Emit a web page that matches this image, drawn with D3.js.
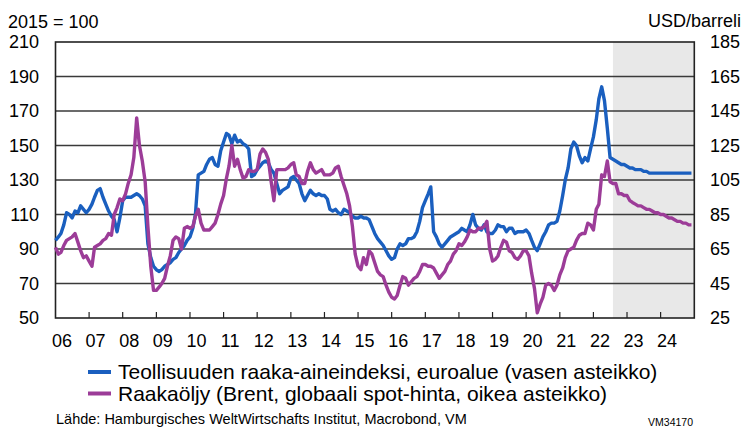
<!DOCTYPE html>
<html lang="fi">
<head>
    <meta charset="UTF-8">
    <title>Raaka-aineet ja öljy</title>
    <script src="https://d3js.org/d3.v7.min.js"></script>
    <style>
        body { margin: 0; background: #fff; }
        svg text { font-family: Arial, "Liberation Sans", sans-serif; fill: #000; }
    </style>
</head>
<body>
<svg id="main" width="742" height="427"></svg>

<script>
    // monthly values, Jan 2006 .. Dec 2024
    const startYear = 2006;

    // Teollisuuden raaka-aineindeksi, euroalue (2015 = 100), left axis
    const industrialIndex = [
        95, 97, 99, 104, 111, 110, 108, 112, 111, 115, 113, 111,
        113, 116, 120, 124, 125, 120, 116, 112, 109, 107, 100, 108,
        118, 120, 120, 120, 121, 122, 121, 119, 115, 93, 85, 80,
        78, 77, 78, 80, 81, 82, 84, 85, 88, 90, 92, 95,
        97, 102, 110, 133, 134, 135, 139, 142, 143, 139, 138, 147,
        152, 157, 156, 151, 156, 152, 153, 151, 150, 148, 132, 133,
        136, 138, 140, 141, 140, 136, 134, 128, 122, 124, 125, 126,
        131, 132, 130, 128, 122, 118, 121, 124, 122, 121, 122, 121,
        121, 119, 113, 112, 113, 111, 110, 113, 112, 111, 109, 108,
        108, 109, 108, 108, 107, 103, 99, 96, 94, 92, 89, 86,
        84, 85, 90, 93, 92, 93, 96, 96, 97, 100, 106, 114,
        118, 122, 126, 100, 97, 93, 91, 93, 95, 97, 98, 99,
        100, 102, 101, 100, 104, 110, 104, 102, 101, 104, 100, 99,
        99, 101, 104, 103, 103, 100, 102, 102, 99, 100, 100, 100,
        101, 99, 95, 91, 89, 93, 97, 100, 104, 105, 105, 106,
        112, 121, 130, 137, 148, 152, 150, 144, 140, 143, 141, 148,
        155, 165, 177, 184, 176, 160, 143, 142, 141, 140, 139, 139,
        138, 137, 137, 136, 136, 136, 135, 135, 134, 134, 134, 134,
        134, 134, 134, 134, 134, 134, 134, 134, 134, 134, 134, 134
    ];

    // Raakaöljy, Brent (USD/barreli), right axis
    const brentPrice = [
        66, 62, 63, 67, 70, 71, 72, 74, 69, 64, 60, 61,
        58, 55, 66, 67, 68, 70, 71, 74, 73, 85, 89, 94,
        93, 97, 103, 108, 118, 141, 125, 116, 104, 78, 55, 41,
        41, 43, 45, 48, 55, 61, 70, 72, 71, 65, 77, 78,
        77, 78, 84, 88, 80, 76, 76, 76, 78, 80, 85, 91,
        96, 106, 113, 125, 113, 117, 111, 106, 107, 111, 110, 110,
        111, 120, 123, 121, 117, 104, 93, 111, 111, 111, 111, 112,
        114, 115, 108, 107, 103, 103, 110, 115, 111, 109, 110, 111,
        108, 108, 108, 109, 112, 113, 107, 102, 97, 90, 78, 62,
        55, 53, 60, 56, 64, 62, 57, 52, 50, 49, 44, 40,
        37, 36, 38, 44, 49, 48, 44, 46, 48, 49, 52, 56,
        56, 55, 55, 54, 51, 48, 50, 52, 56, 58, 62, 64,
        68, 67, 69, 72, 76, 75, 75, 77, 77, 78, 81, 65,
        58, 59, 61, 66, 70, 69, 64, 63, 60, 59, 61, 64,
        64, 61, 51, 42, 28, 33, 37, 44, 45, 44, 41, 44,
        50, 54, 60, 64, 65, 66, 70, 73, 74, 74, 80, 79,
        76, 88, 91, 108, 107, 116, 104, 103, 103, 97, 97, 96,
        96, 93, 92, 91, 90, 90, 89, 88, 88, 87, 86, 86,
        85, 85, 84, 83, 83, 82, 81, 81, 80, 80, 79, 79
    ];

    const yearLabels = ["06", "07", "08", "09", "10", "11", "12", "13", "14", "15",
        "16", "17", "18", "19", "20", "21", "22", "23", "24"];
    const leftTicks = [50, 70, 90, 110, 130, 150, 170, 190, 210];
    const rightTicks = [25, 45, 65, 85, 105, 125, 145, 165, 185];
    const forecastStart = new Date(2022, 7, 1);

    const legendLabels = [
        "Teollisuuden raaka-aineindeksi, euroalue (vasen asteikko)",
        "Raakaöljy (Brent, globaali spot-hinta, oikea asteikko)"
    ];
    const colors = ['#1a5fbf', '#9c3c98'];

    const plotLeft = 55.5, plotRight = 694.3, plotTop = 42, plotBottom = 318;

    let svg = d3.select('svg#main');

    let x = d3.scaleTime()
        .domain([new Date(startYear, 0, 1), new Date(2025, 0, 1)])
        .range([plotLeft, plotRight]);
    let yLeft = d3.scaleLinear().domain([50, 210]).range([plotBottom, plotTop]);
    let yRight = d3.scaleLinear().domain([25, 185]).range([plotBottom, plotTop]);

    let months = industrialIndex.map((d, i) => new Date(startYear, i, 1));

    // forecast shading
    svg.append('rect')
        .attr('x', x(forecastStart))
        .attr('y', plotTop)
        .attr('width', plotRight - x(forecastStart))
        .attr('height', plotBottom - plotTop)
        .attr('fill', '#e8e8e8');

    // gridlines
    svg.append('g')
        .selectAll('line')
        .data(leftTicks.slice(1, -1))
        .enter()
        .append('line')
        .attr('x1', plotLeft).attr('x2', plotRight)
        .attr('y1', d => yLeft(d)).attr('y2', d => yLeft(d))
        .attr('stroke', '#3a3a3a')
        .attr('stroke-width', 1.3);

    // frame
    svg.append('rect')
        .attr('x', plotLeft).attr('y', plotTop)
        .attr('width', plotRight - plotLeft).attr('height', plotBottom - plotTop)
        .attr('fill', 'none')
        .attr('stroke', '#222')
        .attr('stroke-width', 1.6);

    // year ticks (inside) and labels
    let years = d3.range(startYear, startYear + yearLabels.length).map(y => new Date(y, 0, 1));
    svg.append('g')
        .selectAll('line')
        .data(years.slice(1))
        .enter()
        .append('line')
        .attr('x1', d => x(d)).attr('x2', d => x(d))
        .attr('y1', plotBottom).attr('y2', plotBottom - 6)
        .attr('stroke', '#222')
        .attr('stroke-width', 1.2);

    svg.append('g')
        .selectAll('text')
        .data(years)
        .enter()
        .append('text')
        .attr('x', d => x(d) + 6.5)
        .attr('y', 347)
        .attr('text-anchor', 'middle')
        .style('font-size', '18px')
        .text((d, i) => yearLabels[i]);

    // left axis labels
    svg.append('g')
        .selectAll('text')
        .data(leftTicks)
        .enter()
        .append('text')
        .attr('x', 39)
        .attr('y', d => yLeft(d))
        .attr('dy', '0.36em')
        .attr('text-anchor', 'end')
        .style('font-size', '18px')
        .text(d => d);

    // right axis labels
    svg.append('g')
        .selectAll('text')
        .data(rightTicks)
        .enter()
        .append('text')
        .attr('x', 710)
        .attr('y', d => yRight(d))
        .attr('dy', '0.36em')
        .style('font-size', '18px')
        .text(d => d);

    svg.append('text').attr('x', 8).attr('y', 28)
        .style('font-size', '18px').text('2015 = 100');
    svg.append('text').attr('x', 741).attr('y', 27)
        .attr('text-anchor', 'end')
        .style('font-size', '18px').text('USD/barreli');

    // lines
    let lineLeft = d3.line().x((d, i) => x(months[i])).y(d => yLeft(d));
    let lineRight = d3.line().x((d, i) => x(months[i])).y(d => yRight(d));

    svg.append('path')
        .datum(industrialIndex)
        .attr('d', lineLeft)
        .attr('fill', 'none')
        .attr('stroke', colors[0])
        .attr('stroke-width', 3.4)
        .attr('stroke-linejoin', 'round');

    svg.append('path')
        .datum(brentPrice)
        .attr('d', lineRight)
        .attr('fill', 'none')
        .attr('stroke', colors[1])
        .attr('stroke-width', 3.4)
        .attr('stroke-linejoin', 'round');

    // legend
    let legend = svg.append('g')
        .selectAll('g')
        .data(legendLabels)
        .enter()
        .append('g')
        .attr('transform', (d, i) => 'translate(88,' + (372 + i * 21.5) + ')');

    legend.append('line')
        .attr('x1', 0).attr('x2', 23)
        .attr('stroke', (d, i) => colors[i])
        .attr('stroke-width', 4);

    legend.append('text')
        .attr('x', 30)
        .attr('y', 7)
        .style('font-size', '21px')
        .text(d => d);

    svg.append('text').attr('x', 56).attr('y', 424)
        .style('font-size', '14.5px')
        .text('Lähde: Hamburgisches WeltWirtschafts Institut, Macrobond, VM');
    svg.append('text').attr('x', 693).attr('y', 426)
        .attr('text-anchor', 'end')
        .style('font-size', '10.5px')
        .text('VM34170');
</script>
</body>
</html>
